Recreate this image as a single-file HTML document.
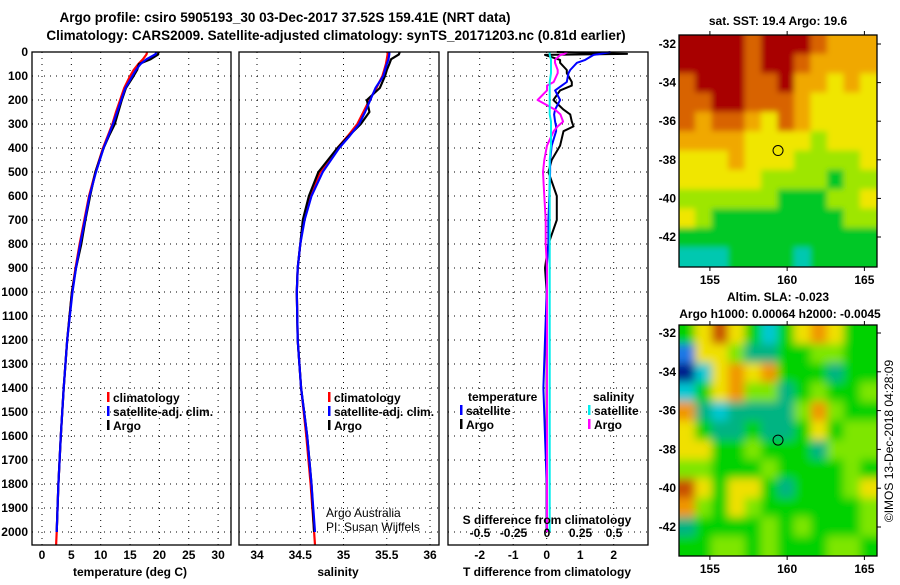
<!DOCTYPE html>
<html><head><meta charset="utf-8">
<style>
html,body{margin:0;padding:0;background:#fff;}
svg text{font-family:"Liberation Sans",sans-serif;font-weight:bold;font-size:12px;fill:#000;}
</style></head>
<body>
<svg id="c" width="900" height="580" viewBox="0 0 900 580" xmlns="http://www.w3.org/2000/svg">
<defs>
<clipPath id="clipA"><rect x="679" y="35" width="198" height="232"/></clipPath>
<clipPath id="clipB"><rect x="679" y="325" width="198" height="231"/></clipPath>
<filter id="blurB" filterUnits="userSpaceOnUse" x="660" y="300" width="240" height="280"><feGaussianBlur stdDeviation="4.5"/></filter>
<filter id="blurA" filterUnits="userSpaceOnUse" x="660" y="10" width="240" height="280"><feGaussianBlur stdDeviation="3"/></filter>
</defs>
<text x="285" y="22" text-anchor="middle" style="font-size:13.5px">Argo profile: csiro 5905193_30 03-Dec-2017 37.52S 159.41E (NRT data)</text>
<text x="336" y="40" text-anchor="middle" style="font-size:13.5px">Climatology: CARS2009. Satellite-adjusted climatology: synTS_20171203.nc (0.81d earlier)</text>
<g id="g"></g>
</svg>
<script>
// ---------- data ----------
const depths = [0,10,30,50,75,100,150,200,250,300,350,400,500,600,700,800,900,1000,1200,1400,1600,1800,2000,2054];
const tClim = [17.9,17.8,17.2,16.4,15.6,15.0,14.0,13.3,12.6,12.0,11.2,10.4,9.1,8.0,7.2,6.4,5.7,5.1,4.3,3.7,3.2,2.8,2.5,2.4];
const tSat  = [19.5,19.3,17.8,16.8,16.0,15.4,14.2,13.5,12.8,12.1,11.3,10.5,9.2,8.1,7.3,6.5,5.8,5.2,4.3,3.7,3.2,2.8,2.5];
const tArgo = [19.8,19.8,18.5,16.5,16.2,15.6,14.3,13.6,13.0,12.4,11.4,10.5,9.1,8.2,7.4,6.7,5.8,5.1,4.3,3.7,3.2,2.8,2.5];
const sClim = [35.51,35.51,35.50,35.49,35.47,35.45,35.38,35.30,35.23,35.16,35.05,34.93,34.73,34.61,34.54,34.50,34.47,34.46,34.47,34.51,34.57,34.62,34.66,34.67];
const sSat  = [35.53,35.53,35.52,35.50,35.48,35.46,35.37,35.31,35.25,35.18,35.07,34.95,34.76,34.63,34.55,34.50,34.47,34.46,34.47,34.51,34.58,34.63,34.67];
const sArgo = [35.65,35.64,35.55,35.53,35.50,35.48,35.42,35.27,35.30,35.20,35.06,34.93,34.71,34.60,34.53,34.50,34.47,34.46,34.47,34.51,34.58,34.63,34.66];
const dDepths = [0,8,12,33,45,75,88,125,140,160,200,240,260,290,310,330,390,450,500,600,700,800,900,1000,1200,1400,1600,1800,2000];
const tdArgo = [0.3,2.4,-0.05,0.4,0.4,0.6,0.6,0.75,0.75,0.4,0.2,0.5,0.7,0.75,0.8,0.5,0.4,0.15,0.05,0.3,0.3,0.05,-0.05,0.0,0.0,0.0,0.0,0.0,0.0];
const tdSat  = [1.9,1.6,1.4,1.15,0.9,0.7,0.65,0.6,0.45,0.25,0.4,0.25,0.22,0.25,0.28,0.28,0.15,0.1,0.1,0.08,0.05,0.05,0.0,0.0,-0.05,-0.1,-0.05,0.0,0.0];
const sdArgo = [0.15,0.13,0.1,0.06,0.06,0.08,0.08,0.05,0.0,0.0,-0.07,0.06,0.1,0.12,0.08,0.05,0.0,-0.02,-0.03,-0.02,-0.01,-0.01,0,0,0,0,0,0,0];
const sdSat  = [0.02,0.02,0.02,0.03,0.03,0.03,0.03,0.02,0.02,0.02,0.02,0.02,0.02,0.03,0.03,0.03,0.03,0.02,0.02,0.02,0.02,0.02,0.02,0.02,0.02,0.02,0.02,0.02,0.02];
const depthTicks = [0,100,200,300,400,500,600,700,800,900,1000,1100,1200,1300,1400,1500,1600,1700,1800,1900,2000];
const tTicks = [0,5,10,15,20,25,30];
const sTicks = [34,34.5,35,35.5,36];
const sTickLabels = ["34","34.5","35","35.5","36"];
const tdTicks = [-2,-1,0,1,2];
const sdTicks = [-0.5,-0.25,0,0.25,0.5];
const sdTickLabels = ["-0.5","-0.25","0","0.25","0.5"];
const lonTicks = [155,160,165];
const latTicks = [-32,-34,-36,-38,-40,-42];
const argoLon = 159.41, argoLat = -37.52;
const sstGrid = [
[6,6,6,6,5,6,6,6,5,4,4,4],
[6,6,6,6,5,6,6,5,4,4,4,4],
[5,6,6,6,5,5,6,4,4,3,4,3],
[5,5,6,6,5,5,5,4,3,3,3,3],
[5,4,5,5,4,3,5,4,3,3,3,3],
[4,4,4,4,3,3,3,3,2,3,3,3],
[3,3,3,4,3,3,3,2,2,2,2,3],
[3,3,3,3,3,2,2,2,2,1,2,2],
[2,2,2,2,2,2,1,1,1,2,2,3],
[3,2,1,1,1,1,1,1,1,1,2,2],
[1,1,1,1,1,1,1,1,1,1,1,1],
[0,0,0,1,1,1,1,0,1,1,1,1]];
const slaGrid = [
[4,6,8,6,4,2,4,6,7,6,4,4],
[1,6,6,5,3,3,4,4,5,5,4,4],
[0,2,6,7,6,7,4,4,4,3,4,4],
[2,4,6,7,5,5,3,4,5,4,4,5],
[7,3,2,3,3,3,3,5,7,5,4,4],
[6,4,3,3,4,3,3,4,6,4,5,5],
[6,6,4,4,5,4,4,4,3,5,5,5],
[5,5,4,4,4,5,4,4,4,4,5,4],
[8,6,4,6,6,4,3,4,4,4,5,6],
[7,5,4,6,5,4,4,4,4,4,4,5],
[3,4,4,4,4,5,4,5,4,4,4,5],
[4,4,5,5,4,5,4,4,4,5,5,4]];
// ---------- helpers ----------
const NS="http://www.w3.org/2000/svg";
const G=document.getElementById('g');
function mk(tag,attrs,parent){const e=document.createElementNS(NS,tag);for(const k in attrs)e.setAttribute(k,attrs[k]);(parent||G).appendChild(e);return e;}
function txt(x,y,s,anchor,parent){const t=mk('text',{x:x,y:y,'text-anchor':anchor||'middle'},parent);t.textContent=s;return t;}
const yD=d=>52+d*0.24;
const BOT=545, TOP=52;
function panel(x0,x1,name){
  const r=mk('rect',{x:x0,y:TOP,width:x1-x0,height:BOT-TOP,fill:'none',stroke:'#000','stroke-width':1.3});
  
  
}
function hgrid(x0,x1){
  depthTicks.forEach(d=>{const l=mk('line',{x1:x0,x2:x1,y1:yD(d),y2:yD(d),stroke:'#000','stroke-dasharray':'1 5','stroke-width':1});
  
  });
}
function vgrid(xs){
  xs.forEach(x=>{const l=mk('line',{x1:x,x2:x,y1:TOP,y2:BOT,stroke:'#000','stroke-dasharray':'1 5','stroke-width':1});
  
  });
}
function line(xs,ds,color,w,name){
  const pts=xs.map((v,i)=>v.toFixed(1)+','+yD(ds[i]).toFixed(1)).join(' ');
  const p=mk('polyline',{points:pts,fill:'none',stroke:color,'stroke-width':w,'stroke-linejoin':'round'});
  
  
}
function legendItem(x,y,color,label,name){
  const m=mk('rect',{x:x,y:y-10,width:2.5,height:10,fill:color});
  
  
  const t=txt(x+6,y,label,'start');
  
  
}
// ---------- panel 1: temperature ----------
const xT=v=>42+v*5.87;
hgrid(32,231); vgrid(tTicks.map(xT));
line(tClim.map(xT),depths,'#f00',2.2,'temp-climatology-line');
line(tArgo.map(xT),depths.slice(0,tArgo.length),'#000',2.2,'temp-argo-line');
line(tSat.map(xT),depths.slice(0,tSat.length),'#00f',2.2,'temp-satellite-line');
panel(32,231,'temperature-panel');
depthTicks.forEach(d=>{const t=txt(28,yD(d)+4,String(d),'end');

});
tTicks.forEach(v=>{const t=txt(xT(v),559,String(v));

});
{const t=txt(130,576,'temperature (deg C)');}
legendItem(107,402,'#f00','climatology','legend-climatology');
legendItem(107,416,'#00f','satellite-adj. clim.','legend-satellite-adj');
legendItem(107,430,'#000','Argo','legend-argo');
// ---------- panel 2: salinity ----------
const xS=v=>257+(v-34)*86.5;
hgrid(239,439); vgrid(sTicks.map(xS));
line(sClim.map(xS),depths,'#f00',2.2,'sal-climatology-line');
line(sArgo.map(xS),depths.slice(0,sArgo.length),'#000',2.2,'sal-argo-line');
line(sSat.map(xS),depths.slice(0,sSat.length),'#00f',2.2,'sal-satellite-line');
panel(239,439,'salinity-panel');
sTicks.forEach((v,i)=>{const t=txt(xS(v),559,sTickLabels[i]);

});
{const t=txt(338,576,'salinity');}
legendItem(328,402,'#f00','climatology','legend2-climatology');
legendItem(328,416,'#00f','satellite-adj. clim.','legend2-satellite-adj');
legendItem(328,430,'#000','Argo','legend2-argo');
{const t=txt(326,517,'Argo Australia','start');t.style.fontWeight='normal';
const t2=txt(326,531,'PI: Susan Wijffels','start');t2.style.fontWeight='normal';}
// ---------- panel 3: differences ----------
const xTD=v=>546.7+v*33.5;
const xSD=v=>547+v*134;
hgrid(448,648); vgrid(tdTicks.map(xTD));
line(tdArgo.map(xTD),dDepths,'#000',2,'tdiff-argo-line');
line(tdSat.map(xTD),dDepths,'#00f',2,'tdiff-satellite-line');
line(sdArgo.map(xSD),dDepths,'#f0f',2,'sdiff-argo-line');
line(sdSat.map(xSD),dDepths,'#0ee',2,'sdiff-satellite-line');
panel(448,648,'difference-panel');
tdTicks.forEach(v=>{const t=txt(xTD(v),559,String(v));

});
sdTicks.forEach((v,i)=>{const t=txt(xSD(v),537,sdTickLabels[i]);

});
{const t=txt(547,576,'T difference from climatology');}
{const t=txt(547,524,'S difference from climatology');}
{const t=txt(468,401,'temperature','start');}
{const t=txt(593,401,'salinity','start');}
legendItem(460,415,'#00f','satellite','legend3-temp-satellite');
legendItem(460,429,'#000','Argo','legend3-temp-argo');
legendItem(588,415,'#0ee','satellite','legend3-sal-satellite');
legendItem(588,429,'#f0f','Argo','legend3-sal-argo');
// ---------- maps ----------
const sstColors=['#00c8b0','#00c828','#9ee600','#f0e600','#f0a800','#d86400','#a80000'];
const slaColors=['#001c8c','#1e78e6','#00c8d2','#00b482','#00d200','#7ee600','#f0e000','#f09600','#c85000'];
function drawMap(x0,y0,w,h,lat32,lat42,grid,colors,clip,filter,name,title1,title2){
  const lonX=v=>x0+(v-153)*15.45;
  const latY=v=>lat32+(-32-v)*(lat42-lat32)/10;
  const g=mk('g',{'clip-path':'url(#'+clip+')'});
  
  
  const gi=mk('g',{filter:'url(#'+filter+')'},g);
  const rows=grid.length, cols=grid[0].length;
  const cw=w/cols, ch=h/rows;
  grid.forEach((row,r)=>row.forEach((v,c)=>{
    const ex=(c===0?-10:0), ew=(c===cols-1?10:0)-ex, ey=(r===0?-10:0), eh=(r===rows-1?10:0)-ey;
    const cell=mk('rect',{x:(x0+c*cw-0.5+ex).toFixed(1),y:(y0+r*ch-0.5+ey).toFixed(1),width:(cw+1+ew).toFixed(1),height:(ch+1+eh).toFixed(1),fill:colors[v]},gi);
    
    
  }));
  const f=mk('rect',{x:x0,y:y0,width:w,height:h,fill:'none',stroke:'#000','stroke-width':1.3});
  
  
  const c=mk('circle',{cx:lonX(argoLon),cy:latY(argoLat),r:5,fill:'none',stroke:'#000','stroke-width':1});
  
  
  lonTicks.forEach(v=>{const t=txt(lonX(v),y0+h+17,String(v));
  
  
  mk('line',{x1:lonX(v),x2:lonX(v),y1:y0-4,y2:y0,stroke:'#000'});
  mk('line',{x1:lonX(v),x2:lonX(v),y1:y0+h,y2:y0+h+4,stroke:'#000'});});
  latTicks.forEach(v=>{const t=txt(x0-3,latY(v)+4,String(v),'end');
  
  
  mk('line',{x1:x0+w,x2:x0+w+4,y1:latY(v),y2:latY(v),stroke:'#000'});});
  const t1=txt(x0+w/2,y0-(title2?24:10),title1);
  
  
  if(title2){const t2=txt(x0+w/2+2,y0-7,title2);
  
  }
}
drawMap(679,35,198,232,44,237,sstGrid,sstColors,'clipA','blurA','sst-map','sat. SST: 19.4 Argo: 19.6');
drawMap(679,325,198,231,333,527,slaGrid,slaColors,'clipB','blurB','sla-map','Altim. SLA: -0.023','Argo h1000: 0.00064 h2000: -0.0045');
{const t=txt(0,0,'\u00A9IMOS 13-Dec-2018 04:28:09');
t.setAttribute('transform','translate(893,441) rotate(-90)');
t.style.fontWeight='normal';

}
</script>
</body></html>
